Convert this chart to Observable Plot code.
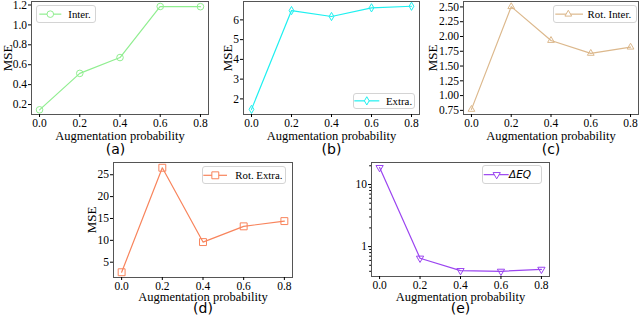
<!DOCTYPE html>
<html>
<head>
<meta charset="utf-8">
<script src="https://cdn.jsdelivr.net/npm/d3@7"></script>
<script src="https://cdn.jsdelivr.net/npm/@observablehq/plot@0.6"></script>
<style>
  html, body { margin: 0; padding: 0; background: white; }
  #root { position: relative; width: 640px; height: 318px; overflow: hidden; background: white; }
  .panel { position: absolute; }
  .legend { position: absolute; box-sizing: border-box; border: 1px solid #d4d4d4; border-radius: 3px; background: rgba(255,255,255,0.85); }
  .legend svg { position: absolute; left: -1px; top: -1px; overflow: visible; }
</style>
</head>
<body>
<div id="root"></div>
<script>
// ---- data ----
const augProb = [0.0, 0.2, 0.4, 0.6, 0.8];
const interMSE = [0.147, 0.513, 0.672, 1.185, 1.183];
const extraMSE = [1.47, 6.47, 6.17, 6.61, 6.69];
const rotInterMSE = [0.767, 2.505, 1.933, 1.715, 1.82];
const rotExtraMSE = [2.7, 26.6, 9.6, 13.2, 14.4];
const deltaEQ = [18.7, 0.65, 0.41, 0.40, 0.43];

const seriesNames = ["Inter.", "Extra.", "Rot. Inter.", "Rot. Extra.", "ΔEQ"];
const captions = ["(a)", "(b)", "(c)", "(d)", "(e)"];
const xTicks = [0.0, 0.2, 0.4, 0.6, 0.8];
const yTicksA = [0.2, 0.4, 0.6, 0.8, 1.0, 1.2];
const yTicksB = [2, 3, 4, 5, 6];
const yTicksC = [0.75, 1.00, 1.25, 1.50, 1.75, 2.00, 2.25, 2.50];
const yTicksD = [5, 10, 15, 20, 25];
const yTicksE = [1, 10];
const yMinorE = [0.4, 0.5, 0.6, 0.7, 0.8, 0.9, 2, 3, 4, 5, 6, 7, 8, 9, 20];
const xLabel = "Augmentation probability";
const yLabel = "MSE";

// ---- layout / style ----
const panels = [
  {values: interMSE, color: "#90ee90", symbol: d3.symbolCircle, r: 3.3, rotate: 0,
   L: 31, R: 208, T: 1, B: 114, sx: 0, sy: 0, sw: 214, sh: 160,
   yType: "linear", yDomain: [0.1, 1.235], yTicks: yTicksA, yFmt: d3.format(".1f"),
   yLabelDx: 24, xLabelDy: 21.5, capDy: 35, capX: 115 - 119.5,
   legend: {x0: 35.7, y0: 5, x1: 95.7, y1: 23.3, l0: 39, l1: 61, m: 50, t: 68}},
  {values: extraMSE, color: "#1ef0f0", symbol: d3.symbolDiamond, r: 2.5, rotate: 0,
   L: 243, R: 419, T: 1, B: 114, sx: 214, sy: 0, sw: 208, sh: 160,
   yType: "linear", yDomain: [1.21, 6.93], yTicks: yTicksB, yFmt: d3.format("d"),
   yLabelDx: 15.7, xLabelDy: 21.5, capDy: 35, capX: 0,
   legend: {x0: 352.7, y0: 93.3, x1: 415.3, y1: 109, l0: 354, l1: 379, m: 366.5, t: 385.7}},
  {values: rotInterMSE, color: "#dcb88c", symbol: d3.symbolTriangle, r: 2.5, rotate: 0,
   L: 463, R: 638, T: 1, B: 114, sx: 422, sy: 0, sw: 218, sh: 160,
   yType: "linear", yDomain: [0.68, 2.592], yTicks: yTicksC, yFmt: d3.format(".2f"),
   yLabelDx: 30.3, xLabelDy: 21.5, capDy: 35, capX: 0,
   legend: {x0: 552.7, y0: 5, x1: 636.7, y1: 23.3, l0: 555, l1: 582.7, m: 568, t: 587.3}},
  {values: rotExtraMSE, color: "#f8845c", symbol: d3.symbolSquare, r: 3.9, rotate: 0,
   L: 113, R: 292, T: 162, B: 277, sx: 60, sy: 156, sw: 260, sh: 162,
   yType: "linear", yDomain: [1.5, 27.8], yTicks: yTicksD, yFmt: d3.format("d"),
   yLabelDx: 21.3, xLabelDy: 19.3, capDy: 31, capX: 0,
   legend: {x0: 201.7, y0: 165.7, x1: 285.7, y1: 184.3, l0: 203, l1: 226.7, m: 215, t: 235}},
  {values: deltaEQ, color: "#9b45f0", symbol: d3.symbolTriangle, r: 2.7, rotate: 180,
   L: 371, R: 549, T: 162, B: 276, sx: 320, sy: 156, sw: 260, sh: 162,
   yType: "log", yDomain: [0.33, 22.6], yTicks: yTicksE, yFmt: d => String(d), minor: yMinorE,
   yLabelDx: null, xLabelDy: 20, capDy: 32, capX: 0,
   legend: {x0: 482.3, y0: 165, x1: 542.3, y1: 184.3, l0: 484, l1: 509, m: 497, t: 509.3, italic: true}}
];

const root = document.getElementById("root");

panels.forEach((p, i) => {
  const data = augProb.map((x, j) => ({x, y: p.values[j]}));
  const ml = p.L - p.sx, mr = p.sx + p.sw - p.R, mt = p.T - p.sy, mb = p.sy + p.sh - p.B;
  const marks = [
    Plot.frame({stroke: "#555", strokeWidth: 1}),
    Plot.axisX({ticks: xTicks, tickFormat: d3.format(".1f"), tickSize: 3, tickPadding: 1, label: null, fontSize: 11.5}),
    Plot.axisY({ticks: p.yTicks, tickFormat: p.yFmt, tickSize: 3, tickPadding: 1.5, label: null, fontSize: 11.5}),
  ];
  if (p.minor) marks.push(Plot.axisY({ticks: p.minor, tickFormat: () => "", tickSize: 1.8, label: null}));
  marks.push(
    Plot.line(data, {x: "x", y: "y", stroke: p.color, strokeWidth: 1.2}),
    Plot.dot(data, {x: "x", y: "y", symbol: p.symbol, r: p.r, rotate: p.rotate, stroke: p.color, strokeWidth: 1, fill: "white", fillOpacity: 0}),
    Plot.text([xLabel], {frameAnchor: "bottom", dy: p.xLabelDy, lineAnchor: "middle", textAnchor: "middle", fontSize: 12.5, fill: "black"}),
    Plot.text([captions[i]], {frameAnchor: "bottom", dy: p.capDy, dx: p.capX, lineAnchor: "middle", textAnchor: "middle", fontSize: 14, fontFamily: "DejaVu Sans", fill: "black"})
  );
  if (p.yLabelDx != null) {
    marks.push(Plot.text([yLabel], {frameAnchor: "left", dx: -p.yLabelDx, rotate: -90, lineAnchor: "middle", textAnchor: "middle", fontSize: 13, fill: "black"}));
  }
  const chart = Plot.plot({
    width: p.sw, height: p.sh,
    marginLeft: ml, marginRight: mr, marginTop: mt, marginBottom: mb,
    style: {fontFamily: "Liberation Serif", fontSize: "11.5px", background: "transparent", overflow: "visible", color: "black"},
    x: {domain: [-0.04, 0.84]},
    y: {type: p.yType, domain: p.yDomain},
    marks
  });
  chart.classList.add("panel");
  chart.style.left = p.sx + "px";
  chart.style.top = p.sy + "px";
  root.appendChild(chart);

  // legend
  const lg = p.legend;
  const box = document.createElement("div");
  box.className = "legend";
  const w = lg.x1 - lg.x0, h = lg.y1 - lg.y0;
  box.style.left = lg.x0 + "px";
  box.style.top = lg.y0 + "px";
  box.style.width = w + "px";
  box.style.height = h + "px";
  const svg = d3.create("svg").attr("width", w).attr("height", h);
  const cy = h / 2;
  svg.append("line").attr("x1", lg.l0 - lg.x0).attr("x2", lg.l1 - lg.x0).attr("y1", cy).attr("y2", cy)
    .attr("stroke", p.color).attr("stroke-width", 1.2);
  svg.append("path").attr("d", d3.symbol(p.symbol, Math.PI * p.r * p.r)())
    .attr("transform", `translate(${lg.m - lg.x0},${cy}) rotate(${p.rotate})`)
    .attr("fill", "white").attr("stroke", p.color).attr("stroke-width", 1);
  svg.append("text").attr("x", lg.t - lg.x0).attr("y", cy).attr("dy", "0.35em")
    .attr("font-family", lg.italic ? "DejaVu Sans" : "Liberation Serif")
    .attr("font-style", lg.italic ? "italic" : "normal")
    .attr("font-size", lg.italic ? 10.5 : 10.8).attr("fill", "black")
    .text(seriesNames[i]);
  box.appendChild(svg.node());
  root.appendChild(box);
});
</script>
</body>
</html>
